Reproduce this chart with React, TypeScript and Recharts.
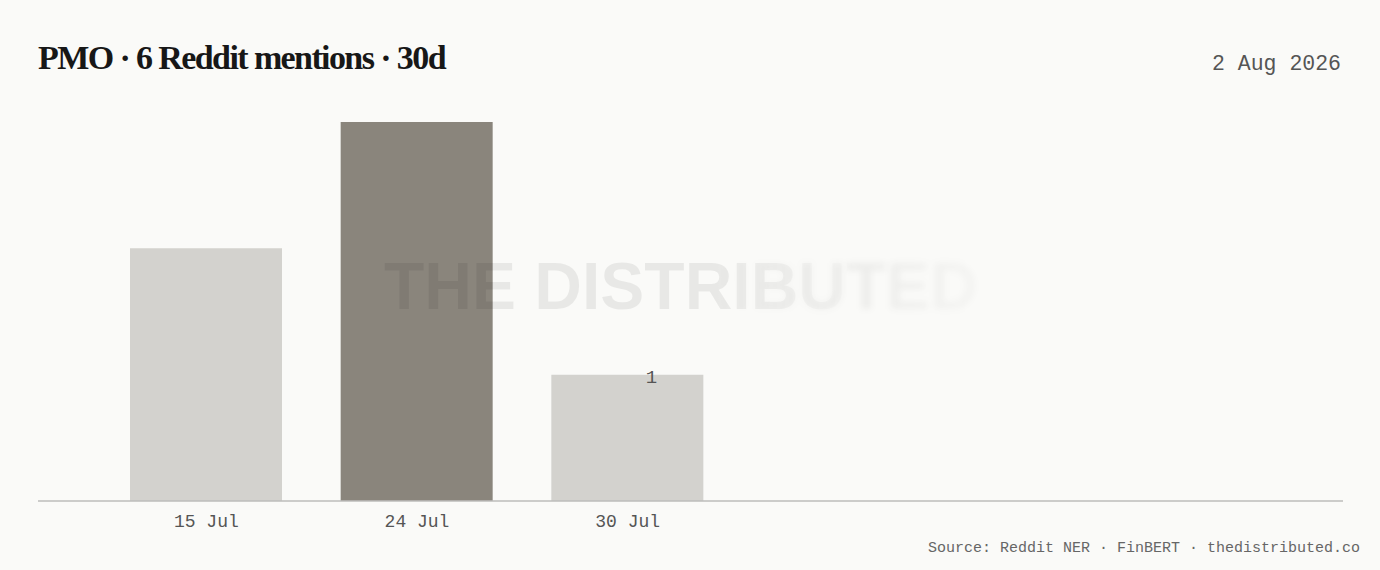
import React from 'react';
import { BarChart, Bar, XAxis, YAxis, Cell, LabelList } from 'recharts';

const days = ['15 Jul', '24 Jul', '30 Jul'];
const mentions = [2, 3, 1];
const valueLabels = ['', '', '1'];
const peakDay = '24 Jul';

const BG = '#fafaf8';
const BAR = '#d3d2ce';
const BAR_PEAK = '#8a857c';
const MONO = '"Liberation Mono", "DejaVu Sans Mono", monospace';

const chartData = days.map((day, i) => ({ day, mentions: mentions[i], label: valueLabels[i] }));

// label sits a bit right of bar centre, straddling the top edge
const ValueLabel = (props: any) => {
  const { x, y, width, value } = props;
  if (!value) return null;
  return (
    <text x={x + width / 2 + 24} y={y + 8} textAnchor="middle" fill="#555" fontFamily={MONO} fontSize={19}>
      {value}
    </text>
  );
};

const Watermark = () => (
  <svg width={1380} height={570} style={{ position: 'absolute', left: 0, top: 0, pointerEvents: 'none' }}>
    <defs>
      <linearGradient id="wmFade" x1="383" x2="985" y1="0" y2="0" gradientUnits="userSpaceOnUse">
        <stop offset="0" stopColor="#fff" stopOpacity={1} />
        <stop offset="0.55" stopColor="#fff" stopOpacity={1} />
        <stop offset="0.8" stopColor="#fff" stopOpacity={0} />
      </linearGradient>
      <linearGradient id="wmFadeBlur" x1="383" x2="985" y1="0" y2="0" gradientUnits="userSpaceOnUse">
        <stop offset="0.55" stopColor="#fff" stopOpacity={0} />
        <stop offset="0.8" stopColor="#fff" stopOpacity={1} />
        <stop offset="1" stopColor="#fff" stopOpacity={0.4} />
      </linearGradient>
      <mask id="wmMask" maskUnits="userSpaceOnUse" x="0" y="0" width="1380" height="570">
        <rect x="0" y="0" width="1380" height="570" fill="url(#wmFade)" />
      </mask>
      <mask id="wmMaskBlur" maskUnits="userSpaceOnUse" x="0" y="0" width="1380" height="570">
        <rect x="0" y="0" width="1380" height="570" fill="url(#wmFadeBlur)" />
      </mask>
      <filter id="wmBlur" x="-10%" y="-30%" width="120%" height="160%">
        <feGaussianBlur stdDeviation="3" />
      </filter>
    </defs>
    <g mask="url(#wmMask)">
      <text x={681} y={309} textAnchor="middle" fontFamily='"Liberation Sans", Arial, sans-serif' fontWeight={700} fontSize={66} fill="#000" fillOpacity={0.07}>
        THE DISTRIBUTED
      </text>
    </g>
    <g mask="url(#wmMaskBlur)">
      <text x={681} y={309} textAnchor="middle" fontFamily='"Liberation Sans", Arial, sans-serif' fontWeight={700} fontSize={66} fill="#000" fillOpacity={0.05} filter="url(#wmBlur)">
        THE DISTRIBUTED
      </text>
    </g>
  </svg>
);

export default function App() {
  return (
    <div style={{ position: 'absolute', left: 0, top: 0, width: 1380, height: 570, background: BG, overflow: 'hidden' }}>
      <div style={{ position: 'absolute', left: 38, top: 39, fontFamily: '"Liberation Serif", serif', fontWeight: 700, fontSize: 34, letterSpacing: -1.6, color: '#171717', whiteSpace: 'nowrap' }}>
        PMO · 6 Reddit mentions · 30d
      </div>
      <div style={{ position: 'absolute', right: 39, top: 54, lineHeight: 1, fontFamily: MONO, fontSize: 21.5, color: '#555', whiteSpace: 'nowrap' }}>
        2 Aug 2026
      </div>

      <BarChart width={1380} height={570} data={chartData} margin={{ top: 122, right: 37, bottom: 39, left: 38 }}>
        <YAxis hide domain={[0, 3]} />
        <XAxis
          dataKey="day"
          height={30}
          padding={{ left: 63, right: 610 }}
          axisLine={{ stroke: '#bdbdbb', strokeWidth: 1.5 }}
          tickLine={false}
          tickMargin={7}
          tick={{ fill: '#555', fontFamily: MONO, fontSize: 18 }}
        />
        <Bar dataKey="mentions" barSize={152} isAnimationActive={false}>
          {chartData.map((d) => (
            <Cell key={d.day} fill={d.day === peakDay ? BAR_PEAK : BAR} />
          ))}
          <LabelList dataKey="label" content={ValueLabel} />
        </Bar>
      </BarChart>

      <Watermark />

      <div style={{ position: 'absolute', right: 20, top: 541, lineHeight: 1, fontFamily: MONO, fontSize: 15, color: '#666', whiteSpace: 'nowrap' }}>
        Source: Reddit NER · FinBERT · thedistributed.co
      </div>
    </div>
  );
}
